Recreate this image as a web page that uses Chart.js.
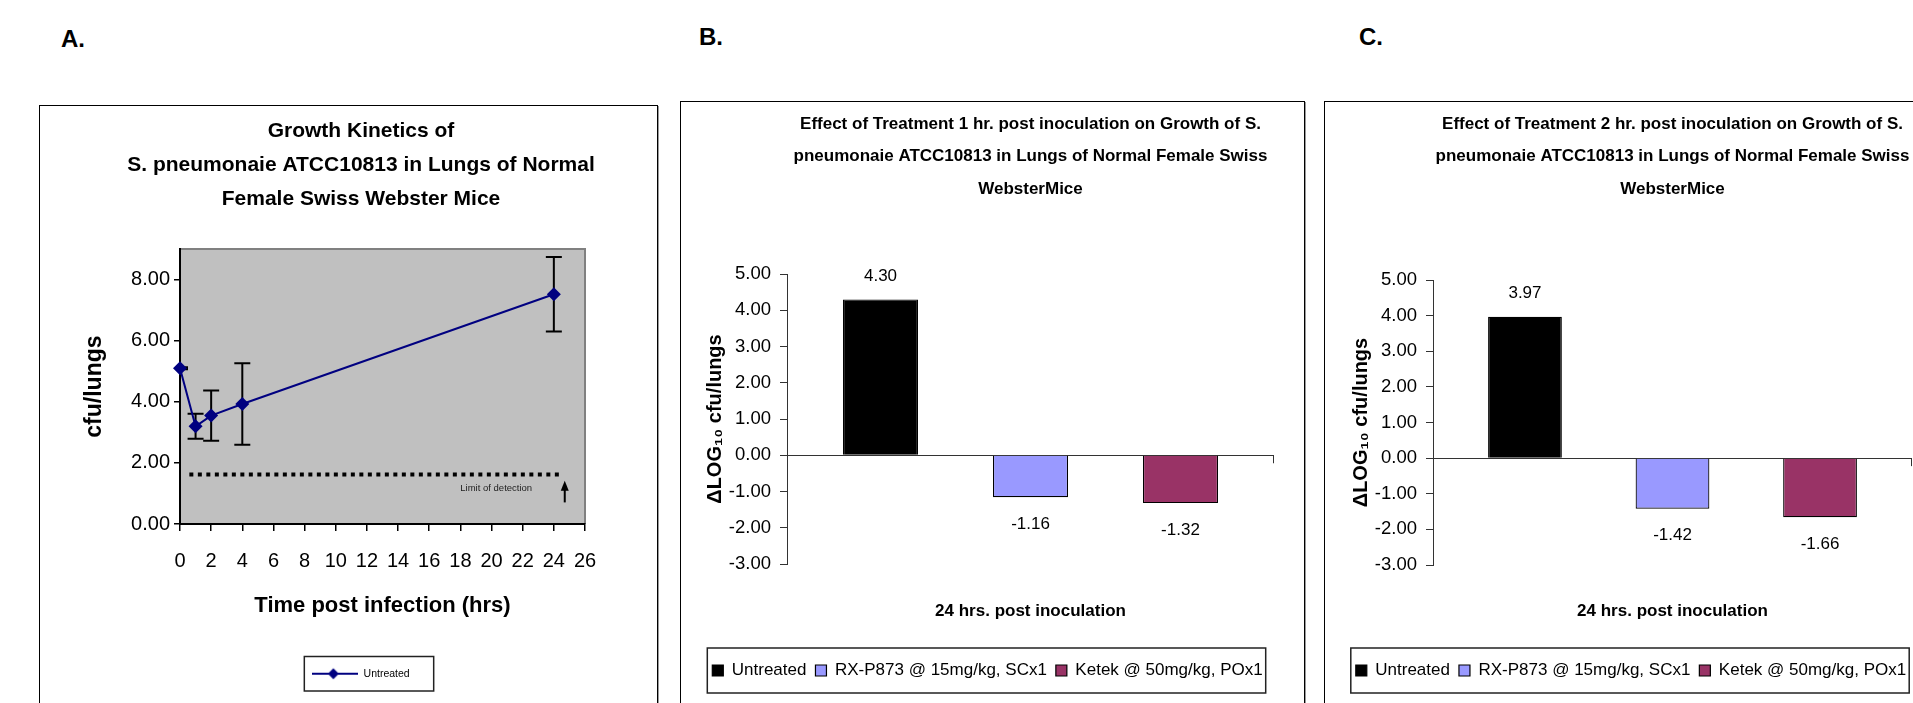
<!DOCTYPE html>
<html lang="en">
<head>
<meta charset="utf-8">
<title>S. pneumonaie ATCC10813 - growth and treatment</title>
<script src="https://cdn.jsdelivr.net/npm/chart.js@4.4.1/dist/chart.umd.min.js"></script>
<style>
  html, body { margin: 0; padding: 0; background: #fff; }
  body { position: relative; width: 1913px; height: 703px; overflow: hidden; }
  .tag { position: absolute; font: bold 24px 'Liberation Sans', Arial, sans-serif; line-height: 24px; color: #000; }
  .frame { position: absolute; box-sizing: border-box; border: 1px solid #000; box-shadow: 1px 1px 0 #9a9a9a; }
  .panel { position: absolute; }
</style>
</head>
<body>
<div class="tag" style="left:61px; top:27px;">A.</div>
<div class="tag" style="left:699px; top:25px;">B.</div>
<div class="tag" style="left:1359px; top:25px;">C.</div>

<div class="frame" style="left:39px; top:105px; width:619px; height:640px;"></div>
<div class="frame" style="left:680px; top:101px; width:625px; height:640px;"></div>
<div class="frame" style="left:1324px; top:101px; width:640px; height:640px;"></div>

<div class="panel" style="left:40px; top:106px; width:616px; height:597px;"><canvas id="chartA"></canvas></div>
<div class="panel" style="left:681px; top:102px; width:622px; height:601px;"><canvas id="chartB"></canvas></div>
<div class="panel" style="left:1325px; top:102px; width:626px; height:601px;"><canvas id="chartC"></canvas></div>

<script>
const SANS = "'Liberation Sans', Arial, Helvetica, sans-serif";

Chart.defaults.color = '#000';
Chart.defaults.animation = false;
Chart.defaults.font.family = SANS;

// A. growth of untreated infection
const timeHrs = [0, 1, 2, 4, 24];
const cfuUntreated = [5.10, 3.20, 3.55, 3.93, 7.52];
const cfuSd = [0.03, 0.41, 0.82, 1.33, 1.22];
const timeTicks = [0, 2, 4, 6, 8, 10, 12, 14, 16, 18, 20, 22, 24, 26];
const cfuTicks = [0, 2, 4, 6, 8];
const detectionLimit = 1.62;
const detectionSpan = [0.6, 24.5];
const detectionText = 'Limit of detection';
const detectionTextAt = [20.3, 1.18];
const detectionArrow = [24.7, 0.71, 1.42]; // x, from y, to y

// B. and C. change after treatment, 24 h
const timepoint = '24 hrs. post inoculation';
const treatments = ['Untreated', 'RX-P873 @ 15mg/kg, SCx1', 'Ketek @ 50mg/kg, POx1'];
const delta1hr = [4.30, -1.16, -1.32];
const delta2hr = [3.97, -1.42, -1.66];
const deltaTicks = [-3, -2, -1, 0, 1, 2, 3, 4, 5];

const treatmentColors = ['#000000', '#9999FF', '#993366'];
const navy = '#000080';

// empty axis on the right, only to move the chart area
function spacerAxis(w) {
  return {
    type: 'linear', position: 'right', display: true,
    ticks: { display: false },
    grid: { display: false, drawTicks: false },
    border: { display: false },
    afterFit: s => { s.width = w; }
  };
}

const plotFill = {
  id: 'plotFill',
  beforeDraw(chart, args, opts) {
    const { ctx, chartArea: a } = chart;
    ctx.save();
    ctx.fillStyle = opts.color;
    ctx.fillRect(a.left, a.top, a.width, a.height);
    ctx.strokeStyle = opts.edge;
    ctx.lineWidth = 2;
    ctx.beginPath();
    ctx.moveTo(a.left, a.top);
    ctx.lineTo(a.right, a.top);
    ctx.lineTo(a.right, a.bottom);
    ctx.stroke();
    ctx.restore();
  }
};

const errorBars = {
  id: 'errorBars',
  beforeDatasetsDraw(chart) {
    const { ctx, chartArea: a, scales: { x, y } } = chart;
    ctx.save();
    ctx.beginPath();
    ctx.rect(a.left, a.top, a.width, a.height);
    ctx.clip();
    ctx.strokeStyle = '#000';
    ctx.lineWidth = 2;
    timeHrs.forEach((t, i) => {
      const px = x.getPixelForValue(t);
      const hi = y.getPixelForValue(cfuUntreated[i] + cfuSd[i]);
      const lo = y.getPixelForValue(cfuUntreated[i] - cfuSd[i]);
      ctx.beginPath();
      ctx.moveTo(px, hi); ctx.lineTo(px, lo);
      ctx.moveTo(px - 8, hi); ctx.lineTo(px + 8, hi);
      ctx.moveTo(px - 8, lo); ctx.lineTo(px + 8, lo);
      ctx.stroke();
    });
    ctx.restore();
  }
};

const detectionNote = {
  id: 'detectionNote',
  afterDatasetsDraw(chart) {
    const { ctx, scales: { x, y } } = chart;
    ctx.save();
    ctx.fillStyle = '#222';
    ctx.font = '9.5px ' + SANS;
    ctx.textAlign = 'center';
    ctx.textBaseline = 'middle';
    ctx.fillText(detectionText, x.getPixelForValue(detectionTextAt[0]), y.getPixelForValue(detectionTextAt[1]));
    const ax = x.getPixelForValue(detectionArrow[0]);
    const y0 = y.getPixelForValue(detectionArrow[1]);
    const y1 = y.getPixelForValue(detectionArrow[2]);
    ctx.strokeStyle = '#000';
    ctx.lineWidth = 2;
    ctx.beginPath();
    ctx.moveTo(ax, y0); ctx.lineTo(ax, y1 + 8);
    ctx.stroke();
    ctx.fillStyle = '#000';
    ctx.beginPath();
    ctx.moveTo(ax, y1); ctx.lineTo(ax - 4, y1 + 10); ctx.lineTo(ax + 4, y1 + 10);
    ctx.closePath();
    ctx.fill();
    ctx.restore();
  }
};

// border round the legend items, like the excel legend box
const legendFrame = {
  id: 'legendFrame',
  afterDraw(chart, args, opts) {
    const boxes = chart.legend.legendHitBoxes.filter(Boolean);
    if (!boxes.length) return;
    const l = Math.min(...boxes.map(b => b.left)) - opts.left;
    const r = Math.max(...boxes.map(b => b.left + b.width)) + opts.right;
    const t = boxes[0].top - opts.top;
    const b = boxes[0].top + boxes[0].height + opts.bottom;
    const ctx = chart.ctx;
    ctx.save();
    ctx.strokeStyle = '#222';
    ctx.lineWidth = 1.5;
    ctx.strokeRect(l, t, r - l, b - t);
    ctx.restore();
  }
};

const barValues = {
  id: 'barValues',
  afterDatasetsDraw(chart, args, opts) {
    const { ctx, chartArea: a } = chart;
    ctx.save();
    ctx.font = opts.font;
    ctx.fillStyle = '#000';
    ctx.textAlign = 'center';
    ctx.textBaseline = 'middle';
    chart.data.datasets.forEach((ds, i) => {
      chart.getDatasetMeta(i).data.forEach((bar, j) => {
        const v = ds.data[j];
        ctx.fillText(v.toFixed(2), bar.x, v >= 0 ? bar.y - opts.above : bar.y + opts.below);
      });
    });
    // little tick at the end of the zero line
    const y0 = chart.scales.y.getPixelForValue(0);
    ctx.strokeStyle = '#333';
    ctx.lineWidth = 1;
    ctx.beginPath();
    ctx.moveTo(a.right - 0.5, y0); ctx.lineTo(a.right - 0.5, y0 + 8);
    ctx.stroke();
    ctx.restore();
  }
};

// legend symbol for panel A: line with diamond
const legendIcon = document.createElement('canvas');
legendIcon.width = 46;
legendIcon.height = 14;
const ic = legendIcon.getContext('2d');
ic.strokeStyle = navy;
ic.lineWidth = 2;
ic.beginPath(); ic.moveTo(0, 7); ic.lineTo(46, 7); ic.stroke();
ic.fillStyle = navy;
ic.beginPath(); ic.moveTo(21, 1.5); ic.lineTo(26.5, 7); ic.lineTo(21, 12.5); ic.lineTo(15.5, 7); ic.closePath(); ic.fill();

const chartA = new Chart(document.getElementById('chartA'), {
  type: 'line',
  data: {
    datasets: [{
      label: 'Untreated',
      data: timeHrs.map((t, i) => ({ x: t, y: cfuUntreated[i] })),
      borderColor: navy,
      backgroundColor: navy,
      borderWidth: 2,
      pointStyle: 'rectRot',
      pointRadius: 7,
      pointHoverRadius: 7,
      pointBorderWidth: 0,
      clip: false
    }, {
      label: detectionText,
      data: detectionSpan.map(t => ({ x: t, y: detectionLimit })),
      borderColor: '#000',
      borderWidth: 4,
      borderDash: [4, 4.5],
      pointRadius: 0
    }]
  },
  options: {
    responsive: true,
    maintainAspectRatio: false,
    layout: { padding: { top: 8, left: 36, right: 10, bottom: 14 } },
    plugins: {
      title: {
        display: true,
        text: ['Growth Kinetics of', 'S. pneumonaie ATCC10813 in Lungs of Normal', 'Female Swiss Webster Mice'],
        font: { size: 21, weight: 'bold', lineHeight: 1.62 },
        padding: { top: 0, bottom: 33 }
      },
      legend: {
        position: 'bottom',
        labels: {
          filter: item => item.datasetIndex === 0,
          usePointStyle: true,
          pointStyle: legendIcon,
          pointStyleWidth: 46,
          font: { size: 10.5 },
          padding: 10
        }
      },
      tooltip: { enabled: false },
      plotFill: { color: '#c0c0c0', edge: '#808080' },
      legendFrame: { left: 8, right: 24, top: 12, bottom: 12 }
    },
    scales: {
      x: {
        type: 'linear', min: 0, max: 26,
        afterBuildTicks: s => { s.ticks = timeTicks.map(v => ({ value: v })); },
        ticks: { font: { size: 20 }, padding: 18.5, maxRotation: 0, autoSkip: false },
        grid: { drawOnChartArea: false, tickLength: 7, tickColor: '#000', lineWidth: 1.5 },
        border: { color: '#000', width: 2 },
        title: {
          display: true, text: 'Time post infection (hrs)',
          font: { size: 22, weight: 'bold' },
          padding: { top: 1, bottom: 39 }
        }
      },
      y: {
        min: 0, max: 9,
        afterBuildTicks: s => { s.ticks = cfuTicks.map(v => ({ value: v })); },
        afterFit: s => { s.width = 104; },
        ticks: { font: { size: 20 }, padding: 4, callback: v => v.toFixed(2) },
        grid: { drawOnChartArea: false, tickLength: 6, tickColor: '#000', lineWidth: 1.5 },
        border: { color: '#000', width: 2 },
        title: { display: true, text: 'cfu/lungs', font: { size: 23, weight: 'bold' }, padding: { top: 5, bottom: 0 } }
      },
      spacer: spacerAxis(61)
    }
  },
  plugins: [plotFill, errorBars, detectionNote, legendFrame]
});

function treatmentChart(canvasId, heading, values, box) {
  return new Chart(document.getElementById(canvasId), {
    type: 'bar',
    data: {
      labels: [timepoint],
      datasets: treatments.map((name, i) => ({
        label: name,
        data: [values[i]],
        backgroundColor: treatmentColors[i],
        borderColor: '#000',
        borderWidth: 1.2,
        categoryPercentage: 0.924,
        barPercentage: 0.5
      }))
    },
    options: {
      responsive: true,
      maintainAspectRatio: false,
      layout: { padding: { top: 6, left: box.left, right: box.right, bottom: 14 } },
      plugins: {
        title: {
          display: true, fullSize: false, text: heading,
          font: { size: 17, weight: 'bold', lineHeight: 1.912 },
          padding: { top: 0, bottom: box.titleGap }
        },
        legend: {
          position: 'bottom',
          labels: { boxWidth: 11, boxHeight: 11, padding: 9, font: { size: 17 } }
        },
        tooltip: { enabled: false },
        legendFrame: { left: 5, right: 3, top: 14, bottom: 14 },
        barValues: { font: '17px ' + SANS, above: 23, below: 27 }
      },
      scales: {
        x: {
          ticks: { display: false },
          grid: { display: false, drawTicks: false },
          border: { display: false },
          title: {
            display: true, text: timepoint,
            font: { size: 17, weight: 'bold' },
            padding: { top: box.labelGap, bottom: 31.8 }
          }
        },
        y: {
          min: -3, max: 5,
          afterBuildTicks: s => { s.ticks = deltaTicks.map(v => ({ value: v })); },
          afterFit: s => { s.width = box.axis; },
          ticks: { font: { size: 18.5 }, padding: 9, callback: v => v.toFixed(2) },
          grid: {
            color: c => (c.tick && c.tick.value === 0 ? '#333' : 'rgba(0,0,0,0)'),
            tickColor: '#333', tickLength: 7, lineWidth: 1
          },
          border: { color: '#333', width: 1 },
          title: {
            display: true, text: 'ΔLOG₁₀ cfu/lungs',
            font: { size: 20, weight: 'bold' },
            padding: { top: box.titlePad, bottom: 0 }
          }
        },
        spacer: spacerAxis(20)
      }
    },
    plugins: [barValues, legendFrame]
  });
}

const chartB = treatmentChart('chartB',
  ['Effect of Treatment 1 hr. post inoculation on Growth of S.', 'pneumonaie ATCC10813 in Lungs of Normal Female Swiss', 'WebsterMice'],
  delta1hr, { left: 0, right: 9, axis: 106, titlePad: 22, titleGap: 68.5, labelGap: 36.8 });

const chartC = treatmentChart('chartC',
  ['Effect of Treatment 2 hr. post inoculation on Growth of S.', 'pneumonaie ATCC10813 in Lungs of Normal Female Swiss', 'WebsterMice'],
  delta2hr, { left: 5, right: 19, axis: 103, titlePad: 19, titleGap: 74.5, labelGap: 35.8 });
</script>
</body>
</html>
